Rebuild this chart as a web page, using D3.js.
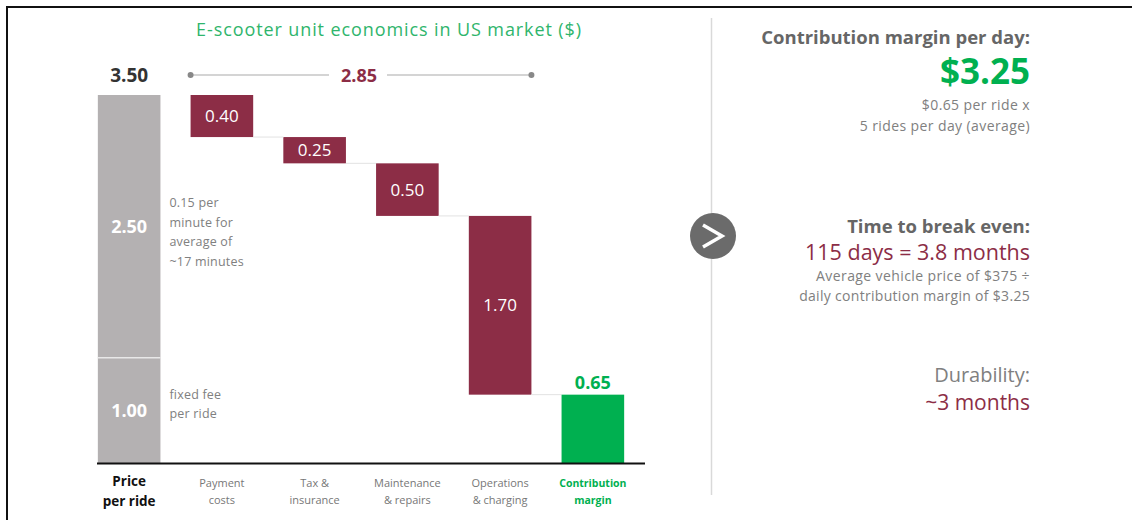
<!DOCTYPE html>
<html><head><meta charset="utf-8">
<script src="https://cdn.jsdelivr.net/npm/d3@7"></script>
<style>
html,body{margin:0;padding:0;background:#fff;}
svg{display:block;font-family:"Open Sans","Noto Sans",sans-serif;}
</style></head>
<body>
<svg id="c" width="1132" height="520"></svg>
<script>
// ---- data ----
const categories = ["Price per ride","Payment costs","Tax & insurance","Maintenance & repairs","Operations & charging","Contribution margin"];
const categoryLines = [["Price","per ride"],["Payment","costs"],["Tax &","insurance"],["Maintenance","& repairs"],["Operations","& charging"],["Contribution","margin"]];
const priceParts = [1.00, 2.50];          // fixed fee, per-minute part
const priceNotes = [["fixed fee","per ride"],["0.15 per","minute for","average of","~17 minutes"]];
const costValues = [0.40, 0.25, 0.50, 1.70];
const marginValue = 0.65;
const totalPrice = 3.50;
const totalCosts = 2.85;
const yMax = 3.5;

const crimson = "#8c2d46", green = "#00b050", greyBar = "#b4b1b2";

const svg = d3.select("#c");

// frame
svg.append("path").attr("d","M7,520 V7 H1132").attr("fill","none").attr("stroke","#111").attr("stroke-width",2);

const x = d3.scaleBand().domain(categories).range([83, 639]).paddingInner(0.325).paddingOuter(0.16);
const y = d3.scaleLinear().domain([0, yMax]).range([463, 95]);
const bw = x.bandwidth();

// title
svg.append("text").attr("x",389).attr("y",36).attr("text-anchor","middle")
  .attr("fill","#2fb56c").attr("font-size",18).attr("letter-spacing",0.9)
  .text("E-scooter unit economics in US market ($)");

// price stacked bar
let acc = 0;
const priceSegs = priceParts.map((v,i)=>{const s={v,i,y0:acc,y1:acc+v}; acc+=v; return s;});
const g0 = svg.append("g");
g0.selectAll("rect").data(priceSegs).join("rect")
  .attr("x",x(categories[0])).attr("width",bw)
  .attr("y",d=>y(d.y1)).attr("height",d=>y(d.y0)-y(d.y1))
  .attr("fill",greyBar);
g0.selectAll("line.sep").data(priceSegs.slice(1)).join("line")
  .attr("x1",x(categories[0])).attr("x2",x(categories[0])+bw)
  .attr("y1",d=>y(d.y0)).attr("y2",d=>y(d.y0)).attr("stroke","#e8e8e8").attr("stroke-width",1.5);
g0.selectAll("text.v").data(priceSegs).join("text")
  .attr("x",x(categories[0])+bw/2).attr("y",d=>(y(d.y0)+y(d.y1))/2+7)
  .attr("text-anchor","middle").attr("fill","#fff").attr("font-weight",700).attr("font-size",18)
  .text(d=>d.v.toFixed(2));
svg.append("text").attr("x",x(categories[0])+bw/2).attr("y",y(totalPrice)-13)
  .attr("text-anchor","middle").attr("fill","#333").attr("font-weight",700).attr("font-size",19)
  .text(totalPrice.toFixed(2));

// notes next to price bar
priceSegs.forEach((d,i)=>{
  const lines = priceNotes[i];
  const lh = i===0 ? 19 : 19.7;
  const base = i===0 ? y(d.y1) + 41 : y(d.y1) + 112;
  const t = svg.append("text").attr("fill","#808080").attr("font-size",12.5).attr("letter-spacing",0.2);
  lines.forEach((l,k)=>t.append("tspan").attr("x",x(categories[0])+bw+9).attr("y",base+k*lh).text(l));
});

// cost bars (waterfall)
let level = totalPrice;
const costs = costValues.map((v,i)=>{const s={cat:categories[i+1],v,top:level,bot:level-v}; level-=v; return s;});
const gc = svg.append("g");
gc.selectAll("rect").data(costs).join("rect")
  .attr("x",d=>x(d.cat)).attr("width",bw)
  .attr("y",d=>y(d.top)).attr("height",d=>y(d.bot)-y(d.top))
  .attr("fill",crimson);
gc.selectAll("text").data(costs).join("text")
  .attr("x",d=>x(d.cat)+bw/2).attr("y",d=>(y(d.top)+y(d.bot))/2+6)
  .attr("text-anchor","middle").attr("fill","#fff").attr("font-size",17)
  .text(d=>d.v.toFixed(2));

// connectors
gc.selectAll("line").data(costs).join("line")
  .attr("x1",d=>x(d.cat)+bw).attr("x2",(d,i)=>x(categories[i+2]))
  .attr("y1",d=>y(d.bot)).attr("y2",d=>y(d.bot))
  .attr("stroke","#e2e2e2").attr("stroke-width",1);

// margin bar
const mc = categories[5];
svg.append("rect").attr("x",x(mc)).attr("width",bw).attr("y",y(marginValue)).attr("height",y(0)-y(marginValue)).attr("fill",green);
svg.append("text").attr("x",x(mc)+bw/2).attr("y",y(marginValue)-6).attr("text-anchor","middle")
  .attr("fill",green).attr("font-weight",700).attr("font-size",18).text(marginValue.toFixed(2));

// bracket for total costs
const bx1 = x(categories[1]), bx2 = x(categories[4])+bw, by = 75, mid=(bx1+bx2)/2;
svg.append("line").attr("x1",bx1).attr("x2",mid-32).attr("y1",by).attr("y2",by).attr("stroke","#aaa").attr("stroke-width",1.2);
svg.append("line").attr("x1",mid+26).attr("x2",bx2).attr("y1",by).attr("y2",by).attr("stroke","#aaa").attr("stroke-width",1.2);
[bx1,bx2].forEach(cx=>svg.append("circle").attr("cx",cx).attr("cy",by).attr("r",3).attr("fill","#888"));
svg.append("text").attr("x",mid-2).attr("y",by+7).attr("text-anchor","middle").attr("fill",crimson)
  .attr("font-weight",700).attr("font-size",18).text(totalCosts.toFixed(2));

// baseline
svg.append("line").attr("x1",97).attr("x2",645).attr("y1",y(0)+0.5).attr("y2",y(0)+0.5).attr("stroke","#111").attr("stroke-width",2);

// category labels
categories.forEach((c,i)=>{
  const lines = categoryLines[i];
  const t = svg.append("text").attr("text-anchor","middle");
  if(i===0){ t.attr("fill","#111").attr("font-weight",700).attr("font-size",13.5); }
  else if(i===5){ t.attr("fill",green).attr("font-weight",700).attr("font-size",10.5); }
  else { t.attr("fill","#777").attr("font-size",11); }
  lines.forEach((l,k)=>t.append("tspan").attr("x",x(c)+bw/2).attr("y",(i===0?486:487)+k*(i===0?20:17)).text(l));
});

// right panel
svg.append("line").attr("x1",711.5).attr("x2",711.5).attr("y1",18).attr("y2",495).attr("stroke","#d9d9d9").attr("stroke-width",1.5);
svg.append("circle").attr("cx",713).attr("cy",236).attr("r",23).attr("fill","#6b6b6b");
svg.append("path").attr("d","M703,225 L722,236 L703,247").attr("fill","none").attr("stroke","#fff").attr("stroke-width",3.5).attr("stroke-linejoin","miter");

const rx = 1030;
const rt = [
  {t:"Contribution margin per day:", y:44, s:18.5, w:700, c:"#666", ls:0},
  {t:"$3.25", y:84, s:35, w:700, c:green, ls:0},
  {t:"$0.65 per ride x", y:110, s:14, w:400, c:"#808080", ls:0.4},
  {t:"5 rides per day (average)", y:131, s:14, w:400, c:"#808080", ls:0.4},
  {t:"Time to break even:", y:233, s:18.5, w:700, c:"#666", ls:0},
  {t:"115 days = 3.8 months", y:260, s:21.5, w:400, c:crimson, ls:0},
  {t:"Average vehicle price of $375 ÷", y:281, s:14, w:400, c:"#808080", ls:0.4},
  {t:"daily contribution margin of $3.25", y:301, s:14, w:400, c:"#808080", ls:0.3},
  {t:"Durability:", y:382, s:20, w:400, c:"#808080", ls:0},
  {t:"~3 months", y:410, s:21, w:400, c:crimson, ls:0}
];
svg.selectAll("text.r").data(rt).join("text").attr("class","r")
  .attr("x",rx).attr("y",d=>d.y).attr("text-anchor","end")
  .attr("font-size",d=>d.s).attr("font-weight",d=>d.w).attr("fill",d=>d.c)
  .attr("letter-spacing",d=>d.ls).text(d=>d.t);
</script>
</body></html>
